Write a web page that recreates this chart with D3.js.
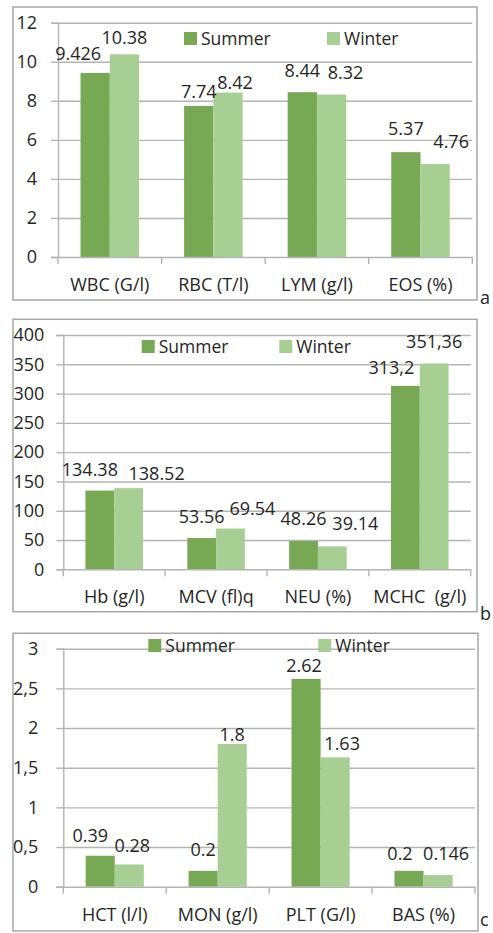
<!DOCTYPE html>
<html>
<head>
<meta charset="utf-8">
<script src="https://cdn.jsdelivr.net/npm/d3@7"></script>
<style>
  html, body { margin: 0; padding: 0; background: #fff; }
  svg { display: block; }
</style>
</head>
<body>
<script>
const WIDTH = 493;
const HEIGHT = 933;
const FONT = "'Open Sans', 'DejaVu Sans', sans-serif";
const SUMMER = "#77a853";
const WINTER = "#a8cf93";
const GRID = "#b4b4b4";
const FRAME = "#a6a6a6";
const INK = "#262626";

const seriesNames = ["Summer", "Winter"];

// panel a
const categoriesA = ["WBC (G/l)", "RBC (T/l)", "LYM (g/l)", "EOS (%)"];
const summerA = [9.426, 7.74, 8.44, 5.37];
const winterA = [10.38, 8.42, 8.32, 4.76];
const summerLabelsA = ["9.426", "7.74", "8.44", "5.37"];
const winterLabelsA = ["10.38", "8.42", "8.32", "4.76"];
const ticksA = [0, 2, 4, 6, 8, 10, 12];

// panel b
const categoriesB = ["Hb (g/l)", "MCV (fl)q", "NEU (%)", "MCHC  (g/l)"];
const summerB = [134.38, 53.56, 48.26, 313.2];
const winterB = [138.52, 69.54, 39.14, 351.36];
const summerLabelsB = ["134.38", "53.56", "48.26", "313,2"];
const winterLabelsB = ["138.52", "69.54", "39.14", "351,36"];
const ticksB = [0, 50, 100, 150, 200, 250, 300, 350, 400];

// panel c
const categoriesC = ["HCT (l/l)", "MON (g/l)", "PLT (G/l)", "BAS (%)"];
const summerC = [0.39, 0.2, 2.62, 0.2];
const winterC = [0.28, 1.8, 1.63, 0.146];
const summerLabelsC = ["0.39", "0.2", "2.62", "0.2"];
const winterLabelsC = ["0.28", "1.8", "1.63", "0.146"];
const ticksC = [0, 0.5, 1, 1.5, 2, 2.5, 3];

// layout per panel (label nudges: [dx, dy] from bar centre / bar top)
const panels = [
  {
    tag: "a", cats: categoriesA, s: summerA, w: winterA, sl: summerLabelsA, wl: winterLabelsA,
    ticks: ticksA, fmt: d => String(d),
    frame: [13, 7, 477, 300], plot: [58, 472.3, 22.7, 257],
    legendY: 45, legendX: [184, 327], tickDx: 21, tagXY: [480, 304],
    nudgeS: [[-17, -13], [0, -8], [0, -15], [0, -17]],
    nudgeW: [[0, -10], [7, -4], [14, -16], [16, -16]]
  },
  {
    tag: "b", cats: categoriesB, s: summerB, w: winterB, sl: summerLabelsB, wl: winterLabelsB,
    ticks: ticksB, fmt: d => String(d),
    frame: [13, 319.3, 477, 611.7], plot: [63.3, 470.7, 335, 569.3],
    legendY: 353, legendX: [141.7, 279.3], tickDx: 19, tagXY: [480, 620],
    nudgeS: [[-10, -15], [0, -15], [0, -16], [-14, -12]],
    nudgeW: [[28, -8], [22, -14], [23, -16], [0, -15]]
  },
  {
    tag: "c", cats: categoriesC, s: summerC, w: winterC, sl: summerLabelsC, wl: winterLabelsC,
    ticks: ticksC, fmt: d => String(d).replace(".", ","),
    frame: [13, 633.3, 478, 931], plot: [63.3, 475, 648.7, 886.7],
    legendY: 652, legendX: [148.3, 318.3], tickDx: 25, tagXY: [480, 926],
    nudgeS: [[-10, -14], [0, -15], [-2, -7], [-9, -11]],
    nudgeW: [[3, -12], [0, -3], [7, -7], [8, -15]]
  }
];

const svg = d3.select("body").append("svg")
  .attr("width", WIDTH)
  .attr("height", HEIGHT)
  .attr("viewBox", `0 0 ${WIDTH} ${HEIGHT}`)
  .style("font-family", FONT);

svg.append("rect").attr("width", WIDTH).attr("height", HEIGHT).attr("fill", "#fff");

function drawPanel(p) {
  const [fx0, fy0, fx1, fy1] = p.frame;
  const [left, right, top, bottom] = p.plot;
  const g = svg.append("g");

  g.append("rect")
    .attr("x", fx0).attr("y", fy0)
    .attr("width", fx1 - fx0).attr("height", fy1 - fy0)
    .attr("fill", "none").attr("stroke", FRAME).attr("stroke-width", 1.5);

  const x0 = d3.scaleBand().domain(p.cats).range([left, right]).padding(0);
  const x1 = d3.scaleBand().domain(seriesNames).range([0, x0.bandwidth()])
    .paddingInner(0).paddingOuter(0.77);
  const y = d3.scaleLinear()
    .domain([p.ticks[0], p.ticks[p.ticks.length - 1]])
    .range([bottom, top]);

  // gridlines
  const grid = g.append("g")
    .attr("transform", `translate(${left},0)`)
    .call(d3.axisLeft(y).tickValues(p.ticks.slice(1)).tickSize(-(right - left)).tickFormat(""));
  grid.select(".domain").remove();
  grid.selectAll(".tick line").attr("stroke", GRID).attr("stroke-width", 1.4);

  // y axis with tick marks and labels
  const yAxis = g.append("g")
    .attr("transform", `translate(${left},0)`)
    .call(d3.axisLeft(y).tickValues(p.ticks).tickSize(7).tickPadding(p.tickDx - 7).tickFormat(p.fmt));
  yAxis.select(".domain").attr("stroke", GRID).attr("stroke-width", 1.4);
  yAxis.selectAll(".tick line").attr("stroke", GRID).attr("stroke-width", 1.4);
  yAxis.selectAll("text")
    .attr("fill", INK).attr("font-size", "18px").attr("font-family", FONT);

  // bars
  const rows = p.cats.map((c, i) => ({
    cat: c,
    vals: [
      { key: "Summer", v: p.s[i], label: p.sl[i], nudge: p.nudgeS[i], color: SUMMER },
      { key: "Winter", v: p.w[i], label: p.wl[i], nudge: p.nudgeW[i], color: WINTER }
    ]
  }));

  const groups = g.append("g").selectAll("g")
    .data(rows)
    .join("g")
    .attr("transform", d => `translate(${x0(d.cat)},0)`);

  groups.selectAll("rect")
    .data(d => d.vals)
    .join("rect")
    .attr("x", d => x1(d.key))
    .attr("y", d => y(d.v))
    .attr("width", x1.bandwidth())
    .attr("height", d => y(0) - y(d.v))
    .attr("fill", d => d.color);

  groups.selectAll("text")
    .data(d => d.vals)
    .join("text")
    .attr("x", d => x1(d.key) + x1.bandwidth() / 2 + d.nudge[0])
    .attr("y", d => y(d.v) + d.nudge[1])
    .attr("text-anchor", "middle")
    .attr("fill", INK)
    .attr("font-size", "18px")
    .text(d => d.label);

  // x axis
  const xAxis = g.append("g")
    .attr("transform", `translate(0,${bottom})`)
    .call(d3.axisBottom(x0).tickSize(0));
  xAxis.select(".domain").attr("stroke", GRID).attr("stroke-width", 1.4);
  xAxis.selectAll("text")
    .attr("y", 34).attr("dy", null)
    .attr("fill", INK).attr("font-size", "18px").attr("font-family", FONT)
    .style("white-space", "pre");

  // boundary tick marks
  const bounds = p.cats.map(c => x0(c)).concat([x0.range()[1]]);
  xAxis.selectAll("line.bound")
    .data(bounds)
    .join("line")
    .attr("class", "bound")
    .attr("x1", d => d).attr("x2", d => d)
    .attr("y1", 0).attr("y2", 7)
    .attr("stroke", GRID).attr("stroke-width", 1.4);

  // legend
  const legend = g.append("g");
  seriesNames.forEach((name, i) => {
    legend.append("rect")
      .attr("x", p.legendX[i]).attr("y", p.legendY - 13)
      .attr("width", 13).attr("height", 13)
      .attr("fill", i === 0 ? SUMMER : WINTER);
    legend.append("text")
      .attr("x", p.legendX[i] + 17).attr("y", p.legendY)
      .attr("fill", INK).attr("font-size", "17.5px")
      .text(name);
  });

  // panel letter
  g.append("text")
    .attr("x", p.tagXY[0]).attr("y", p.tagXY[1])
    .attr("fill", INK).attr("font-size", "18px")
    .text(p.tag);
}

panels.forEach(drawPanel);
</script>
</body>
</html>
